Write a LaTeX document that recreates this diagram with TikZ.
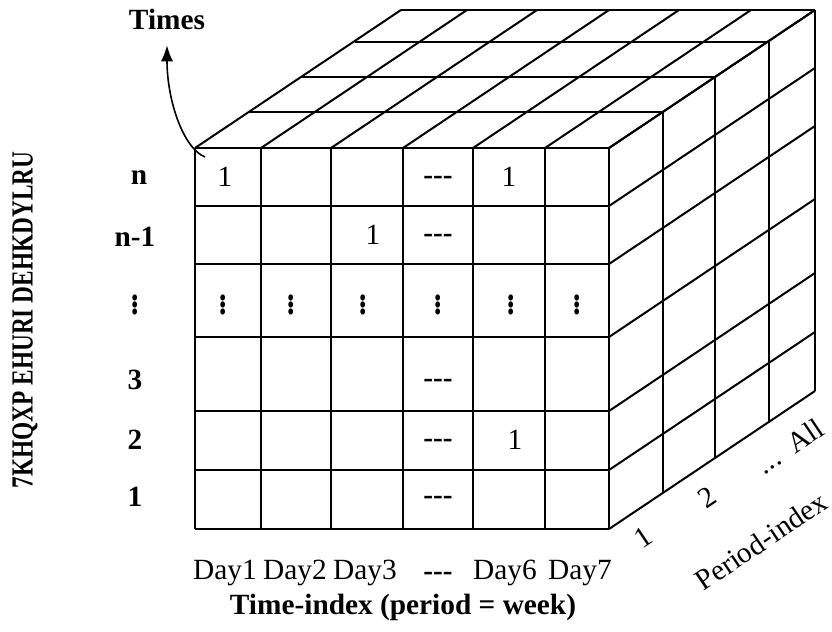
\documentclass[tikz,border=0pt]{standalone}
\usepackage{amsmath}
\usepackage{fontspec}
\setmainfont{Liberation Serif}
\usepackage{graphicx}
\usetikzlibrary{arrows.meta}

\tikzset{
  cube/.style={line width=1.5pt},
  lbl/.style={inner sep=0.75pt, font=\fontsize{22}{26}\selectfont},
  blbl/.style={inner sep=0.75pt, font=\fontsize{22}{26}\selectfont\bfseries},
}
\newcommand{\tallvdots}{\scalebox{1}[1.3]{$\boldsymbol{\vdots}$}}

\begin{document}
\begin{tikzpicture}[x=0.75pt,y=0.75pt,yscale=-1,xscale=1]
\useasboundingbox (0,0) rectangle (832,632);

%Front face: horizontal lines
\draw [cube] (195,148) -- (609,148) ;
\draw [cube] (195,206) -- (609,206) ;
\draw [cube] (195,264) -- (609,264) ;
\draw [cube] (195,337) -- (609,337) ;
\draw [cube] (195,411) -- (609,411) ;
\draw [cube] (195,470) -- (609,470) ;
\draw [cube] (195,529) -- (609,529) ;
%Front face: vertical lines
\draw [cube] (195,148) -- (195,529) ;
\draw [cube] (261,148) -- (261,529) ;
\draw [cube] (331,148) -- (331,529) ;
\draw [cube] (403,148) -- (403,529) ;
\draw [cube] (473,148) -- (473,529) ;
\draw [cube] (545,148) -- (545,529) ;
\draw [cube] (609,148) -- (609,529) ;

%Top face: receding lines
\draw [cube] (195,148) -- (401,10) ;
\draw [cube] (261,148) -- (467,10) ;
\draw [cube] (331,148) -- (537,10) ;
\draw [cube] (403,148) -- (609,10) ;
\draw [cube] (473,148) -- (679,10) ;
\draw [cube] (545,148) -- (751,10) ;
\draw [cube] (609,148) -- (815,10) ;
%Top face: horizontal lines
\draw [cube] (249,112) -- (663,112) ;
\draw [cube] (301,77) -- (715,77) ;
\draw [cube] (355,42) -- (769,42) ;
\draw [cube] (401,10) -- (815,10) ;

%Right face: receding lines
\draw [cube] (609,148) -- (815,10) ;
\draw [cube] (609,206) -- (815,68) ;
\draw [cube] (609,264) -- (815,126) ;
\draw [cube] (609,337) -- (815,199) ;
\draw [cube] (609,411) -- (815,273) ;
\draw [cube] (609,470) -- (815,332) ;
\draw [cube] (609,529) -- (815,391) ;
%Right face: vertical lines
\draw [cube] (663,112) -- (663,493) ;
\draw [cube] (715,77) -- (715,458) ;
\draw [cube] (769,42) -- (769,423) ;
\draw [cube] (815,10) -- (815,391) ;

% Text Node
\node [blbl] (times) at (167,19) {Times};
% Curved arrow
\coordinate (tstart) at (205,157);
\draw [line width=1.2pt, -{Latex[length=12pt,width=9pt]}, shorten >=11pt] (tstart) .. controls (183,148) and (167,100) .. (times.south) ;

% Vertical axis title
\node [inner sep=0.75pt, rotate=90, font=\fontsize{23}{26}\selectfont\bfseries] (vtitle) at (25,320) {\scalebox{0.76}[1]{7KHQXP EHURI DEHKDYLRU}};

% Row labels
\node [blbl] (rown) at (139,178) {n};
\node [blbl] (rownm) at (135,237) {n-1};
\node [blbl] (rowdots) at (135,300) {\tallvdots};
\node [blbl] (rowc) at (135,380) {3};
\node [blbl] (rowb) at (135,440) {2};
\node [blbl] (rowa) at (135,497) {1};

% Cell entries
\node [lbl] (na) at (225,177) {1};
\node [blbl] (nd) at (438,180) {-{}-{}-};
\node [lbl] (ne) at (509,177) {1};
\node [lbl] (mc) at (373,235) {1};
\node [blbl] (md) at (438,238) {-{}-{}-};
\node [blbl] (va) at (223,300) {\tallvdots};
\node [blbl] (vb) at (291,300) {\tallvdots};
\node [blbl] (vc) at (363,300) {\tallvdots};
\node [blbl] (vd) at (438,300) {\tallvdots};
\node [blbl] (ve) at (511,300) {\tallvdots};
\node [blbl] (vf) at (577,300) {\tallvdots};
\node [blbl] (cd) at (438,383) {-{}-{}-};
\node [blbl] (bd) at (438,443) {-{}-{}-};
\node [lbl] (be) at (515,440) {1};
\node [blbl] (ad) at (438,500) {-{}-{}-};

% Column labels
\node [lbl] (day1) at (225,573) {Day1};
\node [lbl] (day2) at (295,573) {Day2};
\node [lbl] (day3) at (365,573) {Day3};
\node [blbl] (daydots) at (438,576) {-{}-{}-};
\node [lbl] (day6) at (505,573) {Day6};
\node [lbl] (day7) at (580,573) {Day7};
\node [blbl] (timeidx) at (403,607) {Time-index (period = week)};

% Period labels
\node [lbl, rotate=34] (pa) at (643,537) {1};
\node [lbl, rotate=34] (pb) at (707,497) {2};
\node [lbl, rotate=34] (pall) at (790,446) {...\ \ All};
\node [lbl, rotate=34] (pidx) at (761,541) {Period-index};

\end{tikzpicture}
\end{document}
